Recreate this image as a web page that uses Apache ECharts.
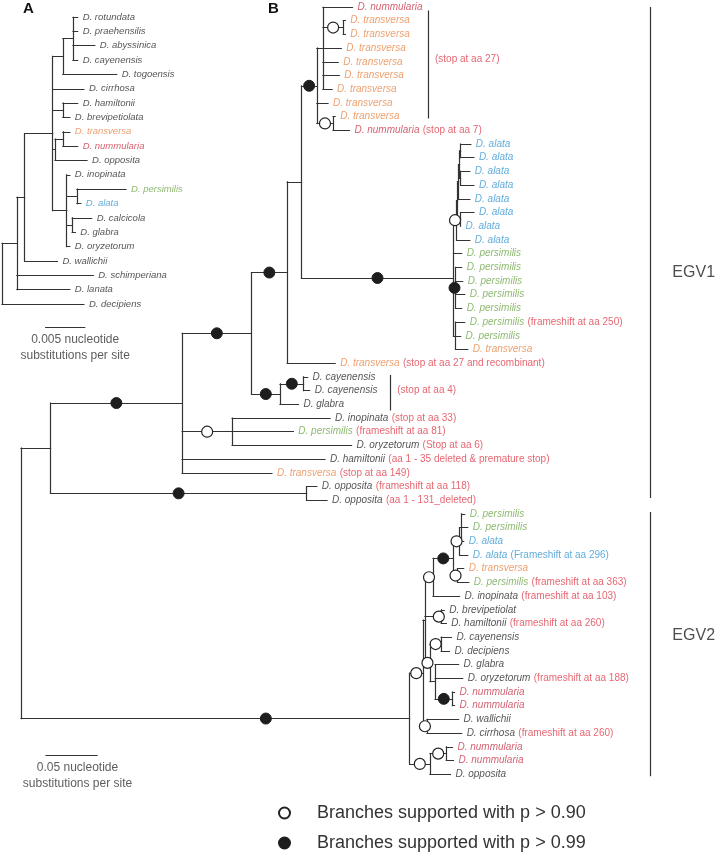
<!DOCTYPE html>
<html>
<head>
<meta charset="utf-8">
<script src="https://cdn.jsdelivr.net/npm/echarts@6/dist/echarts.min.js"></script>
<style>
  html, body { margin: 0; padding: 0; background: #fff; }
  #chart { width: 719px; height: 853px; }
</style>
</head>
<body>
<div id="chart"></div>
<script>
// ---- tree A (depth in 0.0001 substitutions/site) ----
const leafA = ['D. rotundata', 'D. praehensilis', 'D. abyssinica', 'D. cayenensis', 'D. togoensis',
  'D. cirrhosa', 'D. hamiltonii', 'D. brevipetiolata', 'D. transversa', 'D. nummularia', 'D. opposita',
  'D. inopinata', 'D. persimilis', 'D. alata', 'D. calcicola', 'D. glabra', 'D. oryzetorum',
  'D. wallichii', 'D. schimperiana', 'D. lanata', 'D. decipiens']
const colorA = ['k', 'k', 'k', 'k', 'k', 'k', 'k', 'k', 'o', 'r', 'k', 'k', 'g', 'b', 'k', 'k', 'k', 'k', 'k', 'k', 'k']
const tipA = [97, 97, 119, 97, 147, 105, 97, 87, 87, 97, 109, 87, 159, 101, 115, 94, 87, 71, 117, 87, 105]
// node = [depth, support, ...children]  (number child = leaf index)
const topoA = [0, 0,
  [19, 0,
    [29, 0,
      [65, 0,
        [78, 0, [91, 0, 0, 1, 2, 3], 4],
        5,
        [78, 0, 6, 7],
        [68, 0, [78, 0, 8, 9], 10],
        [83, 0, 11, [96, 0, 12, 13], [90, 0, 14, 15], 16]
      ],
      17
    ],
    18, 19
  ],
  20
]

// ---- tree B (depth in 0.001 substitutions/site) ----
const leafB = ['D. nummularia', 'D. transversa', 'D. transversa', 'D. transversa', 'D. transversa',
  'D. transversa', 'D. transversa', 'D. transversa', 'D. transversa', 'D. nummularia',
  'D. alata', 'D. alata', 'D. alata', 'D. alata', 'D. alata', 'D. alata', 'D. alata', 'D. alata',
  'D. persimilis', 'D. persimilis', 'D. persimilis', 'D. persimilis', 'D. persimilis', 'D. persimilis',
  'D. persimilis', 'D. transversa', 'D. transversa', 'D. cayenensis', 'D. cayenensis', 'D. glabra',
  'D. inopinata', 'D. persimilis', 'D. oryzetorum', 'D. hamiltonii', 'D. transversa', 'D. opposita',
  'D. opposita', 'D. persimilis', 'D. persimilis', 'D. alata', 'D. alata', 'D. transversa',
  'D. persimilis', 'D. inopinata', 'D. brevipetiolat', 'D. hamiltonii', 'D. cayenensis', 'D. decipiens',
  'D. glabra', 'D. oryzetorum', 'D. nummularia', 'D. nummularia', 'D. wallichii', 'D. cirrhosa',
  'D. nummularia', 'D. nummularia', 'D. opposita']
const colorB = ['r', 'o', 'o', 'o', 'o', 'o', 'o', 'o', 'o', 'r',
  'b', 'b', 'b', 'b', 'b', 'b', 'b', 'b',
  'g', 'g', 'g', 'g', 'g', 'g', 'g', 'o', 'o', 'k', 'k', 'k',
  'k', 'g', 'k', 'k', 'o', 'k', 'k', 'g', 'g', 'b', 'b', 'o',
  'g', 'k', 'k', 'k', 'k', 'k', 'k', 'k', 'r', 'r', 'k', 'k', 'r', 'r', 'k']
const noteB = {
  9: '(stop at aa 7)', 23: '(frameshift at aa 250)', 26: '(stop at aa 27 and recombinant)',
  30: '(stop at aa 33)', 31: '(frameshift at aa 81)', 32: '(Stop at aa 6)',
  33: '(aa 1 - 35 deleted & premature stop)', 34: '(stop at aa 149)', 35: '(frameshift at aa 118)',
  36: '(aa 1 - 131_deleted)', 40: '(Frameshift at aa 296)', 42: '(frameshift at aa 363)',
  43: '(frameshift at aa 103)', 45: '(frameshift at aa 260)', 49: '(frameshift at aa 188)',
  53: '(frameshift at aa 260)'
}
const tipB = [325, 318, 318, 314, 311, 312, 305, 301, 308, 322,
  441, 444, 440, 444, 440, 444, 431, 440,
  432, 432, 433, 435, 432, 435, 431, 438,
  308, 281, 283, 272, 303, 267, 324, 298, 246, 290, 300,
  435, 438, 434, 438, 434, 439, 430, 415, 417, 422, 420, 429, 433, 425, 425, 429, 432, 423, 424, 421]
// support: 0 none, 1 p > 0.90, 2 p > 0.99 ; [type, fraction along branch]
const topoB = [0, 0,
  [29, 0,
    [158, 2,
      [226, 2,
        [261, 2,
          [275, 0,
            [290, 2, [296, 0, 0, [316, 1, 1, 2], 3, 4, 5, 6], 7, [306, 1, 8, 9]],
            [424, 2,
              [427, 1, [428, 0, [429, 0, [430, 0, [431, 0, 10, 11], [431, 0, 12, 13]], 14], [431, 0, 15, 16]], 17],
              18,
              [426, 2, 19, 20, 21, 22],
              [426, 0, 23, 24, 25]
            ]
          ],
          26
        ],
        [254, 2, [277, 2, 27, 28], 29]
      ],
      [207, 1, 30, 31, 32],
      33, 34
    ],
    [280, 2, 35, 36]
  ],
  [381, [2, 0.63],
    [394, 1,
      [396, 0,
        [404, 1,
          [424, 2,
            [430, 1, [432, 0, 37, 38, 39], 40],
            [428, 1, 41, 42]
          ],
          43
        ],
        [412, [1, 0.85], 44, 45],
        [401, 1, [412, 1, 46, 47], [406, 0, 48, 49, [423, 2, 50, 51]]]
      ],
      [398, 1, 52, 53]
    ],
    [401, 1, [417, 1, 54, 55], 56]
  ]
]
// [depth, firstRow, lastRow, text, textRow]
const bracketsB = [[399, 0.3, 8.1, '(stop at aa 27)', 3.8], [362, 26.9, 29.4, '(stop at aa 4)', 28]]
const groupsB = [[617, 0.05, 35.8, 'EGV1', 19.4], [617, 36.9, 56.1, 'EGV2', 45.9]]

const palette = { k: '#2a2a2a', o: '#e88a4c', r: '#c8384b', g: '#70a74c', b: '#3a97d2' }
const lineColor = '#333'
const font = 'Liberation Sans, Arial, sans-serif'

function walk(node, parentDepth, tips, out) {
  if (typeof node === 'number') {
    const d = tips[node]
    out.lines.push({ coords: [[parentDepth, node], [d, node]] })
    return node
  }
  const [depth, sup, ...kids] = node
  const rows = kids.map(k => walk(k, depth, tips, out))
  const lo = Math.min(...rows), hi = Math.max(...rows)
  const row = (lo + hi) / 2
  out.lines.push({ coords: [[depth, lo], [depth, hi]] })
  if (parentDepth !== null) {
    out.lines.push({ coords: [[parentDepth, row], [depth, row]] })
    const type = Array.isArray(sup) ? sup[0] : sup
    const frac = Array.isArray(sup) ? sup[1] : 0.5
    if (type) {
      const x = parentDepth + frac * (depth - parentDepth)
      ;(type === 1 ? out.open : out.filled).push([x, row])
    }
  }
  return row
}

const treeA = { lines: [], open: [], filled: [] }
walk(topoA, null, tipA, treeA)
const treeB = { lines: [], open: [], filled: [] }
walk(topoB, null, tipB, treeB)

const rich = {}
for (const k in palette) rich[k] = { color: palette[k], fontStyle: 'italic', fontFamily: font, fontSize: 10 }
rich.n = { color: '#e0404e', fontFamily: font, fontSize: 10 }
rich.nb = { color: palette.b, fontFamily: font, fontSize: 10 }
const richA = {}
for (const k in palette) richA[k] = { color: palette[k], fontStyle: 'italic', fontFamily: font, fontSize: 9.5 }

const labelsA = leafA.map((name, i) => ({
  value: [tipA[i], i],
  label: { formatter: '{' + colorA[i] + '|' + name + '}' }
}))
const labelsB = leafB.map((name, i) => {
  const c = colorB[i]
  let f = '{' + c + '|' + name + '}'
  if (noteB[i]) f += ' {' + (c === 'b' ? 'nb' : 'n') + '|' + noteB[i] + '}'
  return { value: [tipB[i], i], label: { formatter: f } }
})

const markLinesB = []
bracketsB.forEach(b => markLinesB.push({ coords: [[b[0], b[1]], [b[0], b[2]]] }))
groupsB.forEach(g => markLinesB.push({ coords: [[g[0], g[1]], [g[0], g[2]]] }))
markLinesB.push({ coords: [[24.5, 54.6], [74.5, 54.6]] }) // 0.05 scale bar
const markLinesA = [{ coords: [[56, 21.6], [106, 21.6]] }] // 0.005 scale bar

const chart = echarts.init(document.getElementById('chart'), null, { renderer: 'canvas' })
const lineStyle = { color: lineColor, width: 1.2, opacity: 1, cap: 'square' }
chart.setOption({
  animation: false,
  grid: [
    { left: 2, top: 17, width: 156, height: 22 * 14.35 },
    { left: 21, top: 7, width: 680 * 1.02, height: 60 * 13.7 }
  ],
  xAxis: [
    { gridIndex: 0, type: 'value', min: 0, max: 200, show: false },
    { gridIndex: 1, type: 'value', min: 0, max: 680, show: false }
  ],
  yAxis: [
    { gridIndex: 0, type: 'value', min: 0, max: 22, inverse: true, show: false },
    { gridIndex: 1, type: 'value', min: 0, max: 60, inverse: true, show: false }
  ],
  legend: {
    orient: 'vertical', left: 278, top: 803, padding: 0, itemGap: 10,
    itemWidth: 11, itemHeight: 11, icon: 'circle',
    data: ['Branches supported with p > 0.90', 'Branches supported with p > 0.99'],
    textStyle: { fontSize: 18, color: '#333', fontFamily: font, lineHeight: 20, padding: [0, 0, 0, 22] }
  },
  graphic: [
    { type: 'text', left: 23, top: 1, style: { text: 'A', font: 'bold 15px ' + font, fill: '#111' } },
    { type: 'text', left: 268, top: 1, style: { text: 'B', font: 'bold 15px ' + font, fill: '#111' } }
  ],
  series: [
    { type: 'lines', coordinateSystem: 'cartesian2d', xAxisIndex: 0, yAxisIndex: 0, silent: true,
      lineStyle: lineStyle, data: treeA.lines.concat(markLinesA) },
    { type: 'scatter', xAxisIndex: 0, yAxisIndex: 0, symbolSize: 0, silent: true,
      label: { show: true, position: 'right', distance: 5, rich: richA }, data: labelsA },
    { type: 'scatter', xAxisIndex: 0, yAxisIndex: 0, symbolSize: 0, silent: true,
      label: { show: true, position: 'bottom', distance: 5, align: 'center', offset: [10, 0],
        formatter: '0.005 nucleotide\nsubstitutions per site',
        fontFamily: font, fontSize: 12, lineHeight: 16, color: '#333' },
      data: [[81, 21.6]] },
    { type: 'lines', coordinateSystem: 'cartesian2d', xAxisIndex: 1, yAxisIndex: 1, silent: true,
      lineStyle: lineStyle, data: treeB.lines.concat(markLinesB) },
    { type: 'scatter', xAxisIndex: 1, yAxisIndex: 1, symbolSize: 0, silent: true,
      label: { show: true, position: 'right', distance: 5, rich: rich }, data: labelsB },
    { type: 'scatter', xAxisIndex: 1, yAxisIndex: 1, symbolSize: 0, silent: true,
      label: { show: true, position: 'right', distance: 7, color: '#e0404e', fontFamily: font, fontSize: 10,
        formatter: p => bracketsB[p.dataIndex][3] },
      data: bracketsB.map(b => [b[0], b[4]]) },
    { type: 'scatter', xAxisIndex: 1, yAxisIndex: 1, symbolSize: 0, silent: true,
      label: { show: true, position: 'right', distance: 22, color: '#222', fontFamily: font, fontSize: 16,
        formatter: p => groupsB[p.dataIndex][3] },
      data: groupsB.map(g => [g[0], g[4]]) },
    { type: 'scatter', xAxisIndex: 1, yAxisIndex: 1, symbolSize: 0, silent: true,
      label: { show: true, position: 'bottom', distance: 5, align: 'center', offset: [6, 0],
        formatter: '0.05 nucleotide\nsubstitutions per site',
        fontFamily: font, fontSize: 12, lineHeight: 16, color: '#333' },
      data: [[49.5, 54.6]] },
    { name: 'Branches supported with p > 0.90', type: 'scatter', xAxisIndex: 1, yAxisIndex: 1, silent: true,
      symbol: 'circle', symbolSize: 11, z: 5,
      itemStyle: { color: '#fff', borderColor: '#222', borderWidth: 1.2, opacity: 1 },
      data: treeB.open.concat(treeA.open) },
    { name: 'Branches supported with p > 0.99', type: 'scatter', xAxisIndex: 1, yAxisIndex: 1, silent: true,
      symbol: 'circle', symbolSize: 11, z: 5,
      itemStyle: { color: '#1e1e1e', borderColor: '#1e1e1e', borderWidth: 1, opacity: 1 },
      data: treeB.filled.concat(treeA.filled) }
  ]
})
</script>
</body>
</html>
